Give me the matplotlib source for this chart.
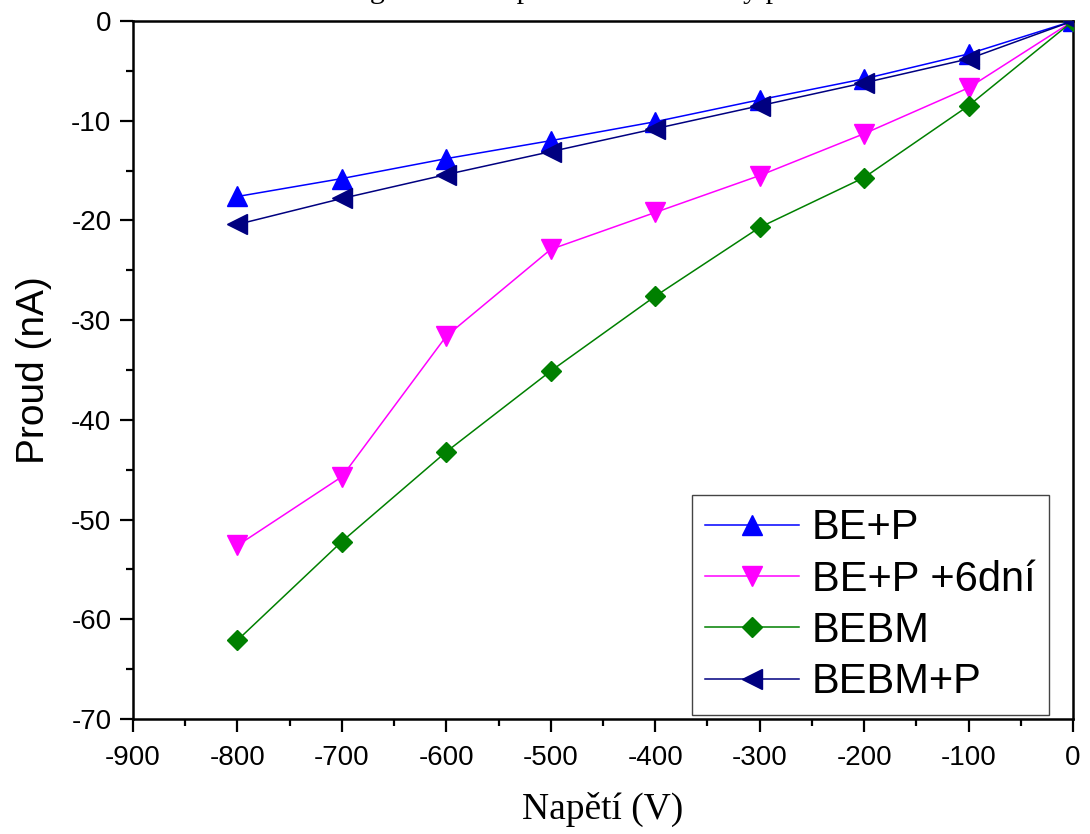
import matplotlib
matplotlib.use("Agg")
import matplotlib.pyplot as plt
from matplotlib.ticker import MultipleLocator

# ---- data ----
voltage = [-800, -700, -600, -500, -400, -300, -200, -100, 0]
be_p = [-17.6, -15.8, -13.8, -12.0, -10.1, -7.9, -5.8, -3.3, 0.0]
be_p_6dni = [-52.6, -45.7, -31.6, -22.9, -19.2, -15.5, -11.3, -6.7, 0.0]
bebm = [-62.1, -52.2, -43.2, -35.1, -27.6, -20.7, -15.7, -8.5, 0.0]
bebm_p = [-20.4, -17.8, -15.4, -13.1, -10.8, -8.5, -6.2, -3.8, 0.0]

labels = ["BE+P", "BE+P +6dní", "BEBM", "BEBM+P"]
x_ticks = [-900, -800, -700, -600, -500, -400, -300, -200, -100, 0]
y_ticks = [0, -10, -20, -30, -40, -50, -60, -70]

title_text = "Srovnání grafů všech proudů mezi vzorky po stárnutí"

plt.rcParams['axes.unicode_minus'] = False
plt.rcParams['font.family'] = ['Liberation Sans', 'DejaVu Sans']

W, H = 1090, 834
fig = plt.figure(figsize=(W / 100, H / 100), dpi=100)
ax = fig.add_axes([133 / W, 1 - 719 / H, 940 / W, 698 / H])

ax.plot(voltage, be_p, color='#0000FF', lw=1.1, marker='^', ms=14, label=labels[0], zorder=3)
ax.plot(voltage, be_p_6dni, color='#FF00FF', lw=1.1, marker='v', ms=14, label=labels[1], zorder=3)
ax.plot(voltage, bebm, color='#008000', lw=1.1, marker='D', ms=10.5, label=labels[2], zorder=3)
ax.plot(voltage, bebm_p, color='#000080', lw=1.1, marker='<', ms=14, label=labels[3], zorder=3)

ax.set_xlim(-900, 0)
ax.set_ylim(-70, 0)
ax.set_xticks(x_ticks)
ax.set_yticks(y_ticks)
ax.xaxis.set_minor_locator(MultipleLocator(50))
ax.yaxis.set_minor_locator(MultipleLocator(5))

for s in ax.spines.values():
    s.set_linewidth(1.8)
ax.tick_params(which='major', direction='out', length=9.5, width=1.6,
               labelsize=20, top=False, right=False)
ax.tick_params(which='minor', direction='out', length=5, width=1.6,
               top=False, right=False)
ax.tick_params(axis='x', which='major', pad=9)
ax.tick_params(axis='y', which='major', pad=6)

ax.set_xlabel("Napětí (V)", family='Liberation Serif', fontsize=27, labelpad=15)
ax.set_ylabel("Proud (nA)", fontsize=28, labelpad=14)

leg = ax.legend(loc='upper left', bbox_to_anchor=(692 / W, 1 - 495 / H),
                bbox_transform=fig.transFigure, borderaxespad=0,
                fontsize=30, handlelength=2.25, handletextpad=0.31,
                borderpad=0.32, labelspacing=0.27, fancybox=False,
                framealpha=1, edgecolor='#444444')
leg.get_frame().set_linewidth(1.0)

fig.text(254 / W, 1 + 1.5 / H, title_text, family='Liberation Serif',
         fontsize=21.6, ha='left', va='baseline')

fig.savefig("out.png", dpi=100)
